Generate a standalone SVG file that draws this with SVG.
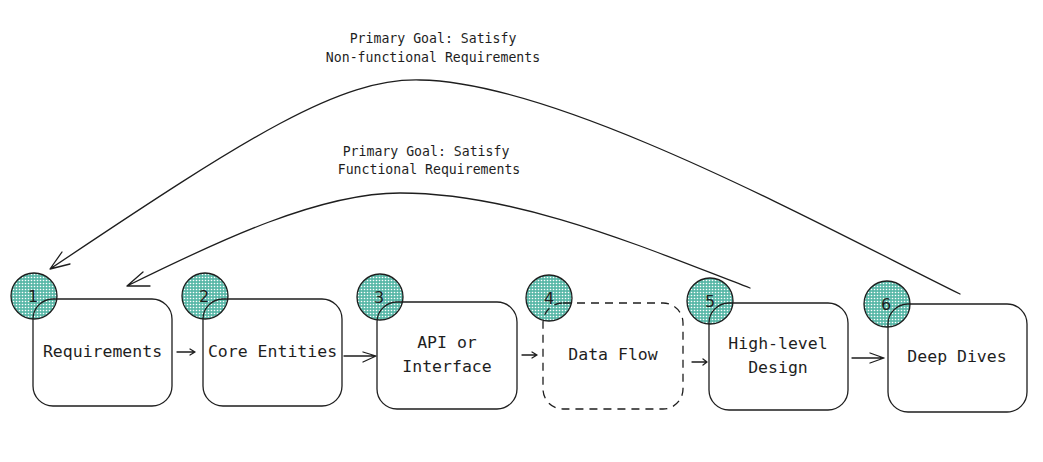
<svg xmlns="http://www.w3.org/2000/svg" width="1043" height="462" viewBox="0 0 1043 462">
<defs>
<pattern id="hatch" width="3" height="3" patternUnits="userSpaceOnUse">
<rect width="3" height="3" fill="#5ab8a8"/>
<circle cx="1.5" cy="1.5" r="0.8" fill="#ffffff"/>
</pattern>
<style>
.box{fill:none;stroke:#1e1e1e;stroke-width:1.3}
.dash{stroke-dasharray:8 6}
.num{fill:url(#hatch);stroke:#1e1e1e;stroke-width:1.3}
.t{font-family:"DejaVu Sans Mono","Liberation Mono",monospace;font-size:16.5px;fill:#1e1e1e;text-anchor:middle}
.d{font-family:"DejaVu Sans",sans-serif;font-size:16px;fill:#1e1e1e;text-anchor:middle}
.lbl{font-family:"DejaVu Sans Mono","Liberation Mono",monospace;font-size:13.2px;fill:#1e1e1e;text-anchor:middle}
.c{fill:none;stroke:#1e1e1e;stroke-width:1.3;stroke-linecap:round;stroke-linejoin:round}
</style>
</defs>
<rect width="1043" height="462" fill="#ffffff"/>

<g id="node1">
<circle class="num" cx="34" cy="296" r="23"/>
<rect class="box" x="33" y="299" width="139" height="107" rx="20"/>
<text class="d" x="33" y="302">1</text>
<text class="t" x="102.5" y="357">Requirements</text>
</g>
<g id="node2">
<circle class="num" cx="205" cy="296" r="23"/>
<rect class="box" x="203" y="299" width="139" height="107" rx="20"/>
<text class="d" x="204" y="302">2</text>
<text class="t" x="272.5" y="357">Core Entities</text>
</g>
<g id="node3">
<circle class="num" cx="380" cy="297" r="23"/>
<rect class="box" x="377" y="302" width="140" height="107" rx="20"/>
<text class="d" x="379" y="303">3</text>
<text class="t" x="447" y="348">API or</text>
<text class="t" x="447" y="372">Interface</text>
</g>
<g id="node4">
<circle class="num" cx="549" cy="298" r="23"/>
<rect class="box dash" x="543" y="303" width="140" height="106" rx="20"/>
<text class="d" x="549" y="304">4</text>
<text class="t" x="613" y="360">Data Flow</text>
</g>
<g id="node5">
<circle class="num" cx="710" cy="301" r="23"/>
<rect class="box" x="709" y="303" width="139" height="107" rx="20"/>
<text class="d" x="710" y="307">5</text>
<text class="t" x="778" y="349">High-level</text>
<text class="t" x="778" y="373">Design</text>
</g>
<g id="node6">
<circle class="num" cx="887" cy="304" r="23"/>
<rect class="box" x="888" y="304" width="139" height="108" rx="20"/>
<text class="d" x="886" y="310">6</text>
<text class="t" x="957" y="362">Deep Dives</text>
</g>

<g id="connectors">
<path class="c" d="M177,352 L195,352 M190,349 L195,352 L190,355"/>
<path class="c" d="M344,356 L376,356 M363,352 L376,356 L363,362"/>
<path class="c" d="M522,355 L537,355 M532,352 L537,355 L532,358"/>
<path class="c" d="M692,362 L707,362 M703,359 L707,362 L703,365"/>
<path class="c" d="M852,358 L884,358 M870,353 L884,358 L870,363"/>
<path class="c" d="M960,294 C820,225 560,82 420,80 C340,78 250,135 50,269 M62,252 L50,269 L70,264"/>
<path class="c" d="M750,288 C650,250 520,193 400,193 C320,193 220,240 127,286 M143,272 L127,286 L150,286"/>
<text class="lbl" x="433" y="43">Primary Goal: Satisfy</text>
<text class="lbl" x="433" y="62">Non-functional Requirements</text>
<text class="lbl" x="426" y="156">Primary Goal: Satisfy</text>
<text class="lbl" x="429" y="174">Functional Requirements</text>
</g>
</svg>
